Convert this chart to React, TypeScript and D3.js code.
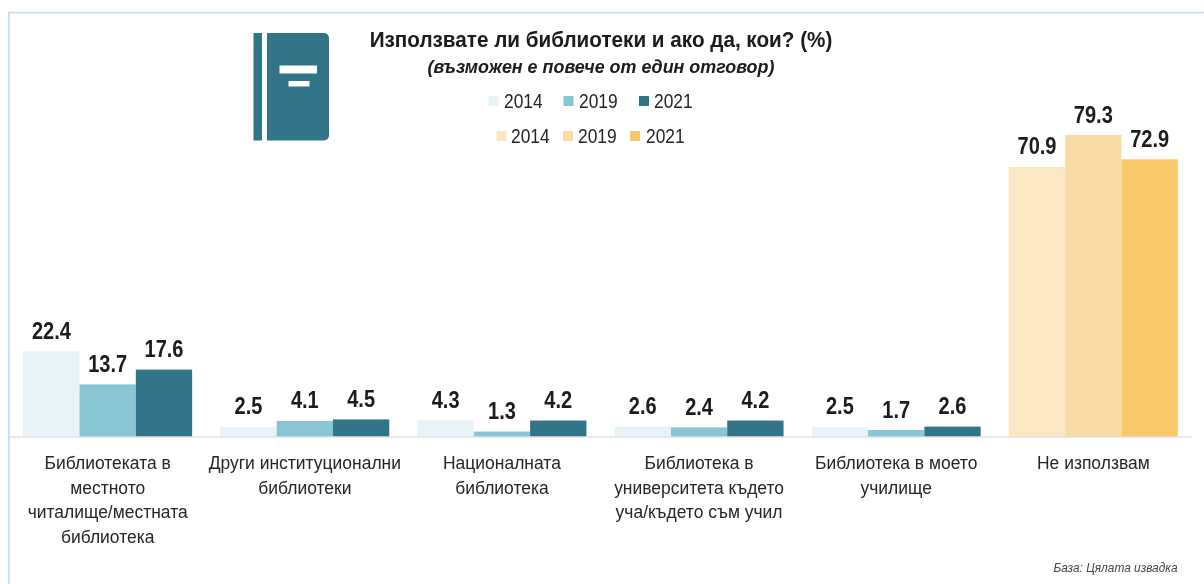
import React from 'react';
import * as d3 from 'd3';

const years = ['2014', '2019', '2021'];
const categories = [
  ['Библиотеката в', 'местното', 'читалище/местната', 'библиотека'],
  ['Други институционални', 'библиотеки'],
  ['Националната', 'библиотека'],
  ['Библиотека в', 'университета където', 'уча/където съм учил'],
  ['Библиотека в моето', 'училище'],
  ['Не използвам'],
];
const values2014 = [22.4, 2.5, 4.3, 2.6, 2.5, 70.9];
const values2019 = [13.7, 4.1, 1.3, 2.4, 1.7, 79.3];
const values2021 = [17.6, 4.5, 4.2, 4.2, 2.6, 72.9];
const seriesValues = [values2014, values2019, values2021];

const tealColors = ['#e7f3f6', '#89c5d2', '#317488'];
const orangeColors = ['#fce7c3', '#f9dba6', '#f8c86b'];
const orangeGroup = 5;

const width = 1204;
const height = 584;
const baseline = 436.5;
const squeeze = 0.87;
const font = '"Liberation Sans", Arial, sans-serif';

const x0 = d3.scaleBand<number>()
  .domain(d3.range(categories.length))
  .range([9, 1192])
  .paddingInner(0.143)
  .paddingOuter(0.072);
const x1 = d3.scaleBand<number>().domain([0, 1, 2]).range([0, x0.bandwidth()]);
const y = d3.scaleLinear().domain([0, 79.3]).range([baseline, 135]);

// the reference is a horizontally squeezed screenshot, so the text is squeezed too
const Label = ({ x, y, size, bold, italic, anchor = 'middle', fill = '#1a1a1a', sx = squeeze, children }: any) => (
  <text
    transform={`translate(${x},${y}) scale(${sx},1)`}
    textAnchor={anchor}
    fontFamily={font}
    fontSize={size}
    fontWeight={bold ? 'bold' : 'normal'}
    fontStyle={italic ? 'italic' : 'normal'}
    fill={fill}
  >
    {children}
  </text>
);

const Legend = ({ colors, swatchX, textX, cy, size }: any) => (
  <g>
    {years.map((year, i) => (
      <g key={year}>
        <rect x={swatchX[i]} y={cy - size / 2} width={size} height={size} fill={colors[i]} />
        <Label x={textX[i]} y={cy + 7} size={20} anchor="start" fill="#262626">{year}</Label>
      </g>
    ))}
  </g>
);

const App = () => (
  <svg
    width={width}
    height={height}
    style={{ position: 'absolute', left: 0, top: 0, display: 'block', background: '#fff' }}
  >
    <defs>
      <filter id="soft" x="-2%" y="-2%" width="104%" height="104%">
        <feGaussianBlur stdDeviation="0.45" />
      </filter>
    </defs>
    <g filter="url(#soft)">
      {/* frame */}
      <path d="M9,584V12.5H1204" fill="none" stroke="#c5daf0" strokeWidth={1.6} />

      {/* book icon */}
      <rect x={253.5} y={33} width={8.5} height={107.5} fill={tealColors[2]} />
      <path d="M267,33H324a5,5 0 0 1 5,5V135.5a5,5 0 0 1 -5,5H267Z" fill={tealColors[2]} />
      <rect x={279.5} y={65.5} width={37.5} height={8} fill="#fff" />
      <rect x={288.5} y={81} width={21} height={5.5} fill="#fff" />

      {/* title */}
      <Label x={601} y={47} size={22} bold sx={0.94}>Използвате ли библиотеки и ако да, кои? (%)</Label>
      <Label x={601} y={73} size={18} bold italic sx={0.995}>(възможен е повече от един отговор)</Label>

      <Legend colors={tealColors} swatchX={[488.5, 563.5, 639]} textX={[504, 579, 654]} cy={101} size={10} />
      <Legend colors={orangeColors} swatchX={[496.5, 563, 630]} textX={[511, 578, 646]} cy={136} size={10} />

      {/* bars */}
      {categories.map((lines, c) => (
        <g key={c} transform={`translate(${x0(c)},0)`}>
          {seriesValues.map((values, s) => (
            <rect
              key={s}
              x={x1(s)}
              y={y(values[c])}
              width={x1.bandwidth()}
              height={baseline - y(values[c])}
              fill={(c === orangeGroup ? orangeColors : tealColors)[s]}
            />
          ))}
          {seriesValues.map((values, s) => (
            <Label
              key={s}
              x={(x1(s) as number) + x1.bandwidth() / 2}
              y={y(values[c]) - 12.5}
              size={23}
              bold
            >
              {values[c].toFixed(1)}
            </Label>
          ))}
          {lines.map((line, l) => (
            <Label key={l} x={x0.bandwidth() / 2} y={469 + l * 24.7} size={18.5} fill="#262626" sx={0.945}>{line}</Label>
          ))}
        </g>
      ))}

      {/* axis */}
      <line x1={9} x2={1192} y1={baseline + 0.5} y2={baseline + 0.5} stroke="#d4d4d4" strokeWidth={1.2} />

      <Label x={1177.5} y={572} size={12.5} italic anchor="end" fill="#444" sx={0.95}>База: Цялата извадка</Label>
    </g>
  </svg>
);

export default App;
